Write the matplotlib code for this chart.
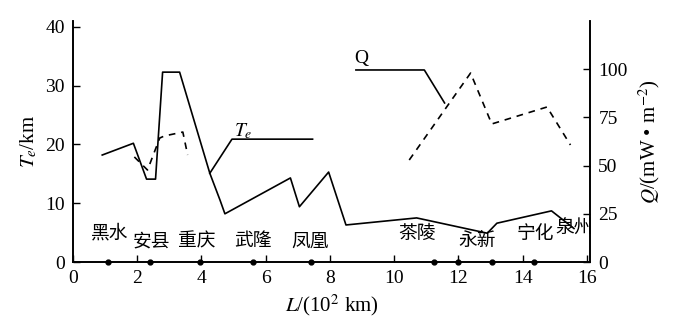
import matplotlib
matplotlib.use("Agg")
import matplotlib.pyplot as plt

plt.rcParams['font.family'] = ['Liberation Serif', 'Noto Sans CJK SC']
plt.rcParams['mathtext.fontset'] = 'stix'

# Te profile (solid)
te_L = [0.91, 1.88, 2.29, 2.57, 2.79, 3.32, 4.26, 4.58, 4.73, 6.77, 7.05, 7.96, 8.5, 10.7, 12.9, 13.2, 14.9, 15.6]
te_val = [18.2, 20.2, 14.1, 14.1, 32.3, 32.3, 15.1, 10.5, 8.2, 14.3, 9.4, 15.3, 6.3, 7.5, 4.9, 6.6, 8.7, 5.7]

# heat flow Q (dashed), two separate pieces
q1_L = [1.91, 2.32, 2.7, 2.85, 3.42, 3.57]
q1_val = [54.5, 47.7, 64.3, 65.4, 67.4, 55.5]
q2_L = [10.47, 12.38, 13.04, 14.76, 15.49]
q2_val = [52.9, 98.0, 71.6, 80.4, 60.7]

# label leader lines
te_lead_L = [4.26, 4.95, 7.46]
te_lead_val = [15.1, 20.9, 20.9]
q_lead_L = [8.81, 10.94, 11.57]
q_lead_val = [99.6, 99.6, 82.5]

# stations
stations = ['黑水', '安县', '重庆', '武隆', '凤凰', '茶陵', '永新', '宁化', '泉州']
station_L = [1.1, 2.4, 3.95, 5.6, 7.4, 11.25, 12.0, 13.05, 14.35]
label_L = [1.15, 2.44, 3.84, 5.6, 7.38, 10.7, 12.6, 14.4, 15.6]
label_y = [4.9, 3.6, 3.6, 3.6, 3.6, 4.9, 3.7, 4.9, 5.8]

fig = plt.figure(figsize=(7, 3.35), dpi=100)
ax = fig.add_axes([0.1043, 0.2179, 0.7386, 0.7194])
ax2 = ax.twinx()

ax.plot(te_L, te_val, color='black', lw=1.2)
ax.plot(te_lead_L, te_lead_val, color='black', lw=1.2)
ax2.plot(q1_L, q1_val, color='black', lw=1.2, ls=(0, (4, 3.5)))
ax2.plot(q2_L, q2_val, color='black', lw=1.2, ls=(0, (4, 3.5)))
ax2.plot(q_lead_L, q_lead_val, color='black', lw=1.2)

ax.plot(station_L, [0] * len(station_L), 'o', color='black', ms=3.5, clip_on=False, zorder=5)
for name, x, y in zip(stations, label_L, label_y):
    ax.text(x, y, name, fontsize=13.5, ha='center', va='center', family='Noto Sans CJK SC')

ax.text(5.0, 22.3, r'$T_e$', fontsize=14, ha='left', va='center')
ax2.text(8.75, 105.8, 'Q', fontsize=14, ha='left', va='center')

ax.set_xlim(0, 16.1)
ax.set_ylim(0, 41)
ax2.set_ylim(0, 125)
ax.set_xticks(range(0, 17, 2))
ax.set_yticks([0, 10, 20, 30, 40])
ax2.set_yticks([0, 25, 50, 75, 100])

for a in (ax, ax2):
    a.spines['top'].set_visible(False)
    for s in a.spines.values():
        s.set_linewidth(1.2)
ax.tick_params(axis='both', direction='in', length=5, width=1, labelsize=14, pad=6)
ax2.tick_params(axis='y', direction='in', length=5, width=1, labelsize=14, pad=6)

ax.set_xlabel(r'$L$/(10$^2$ km)', fontsize=15, labelpad=4)
ax.set_ylabel(r'$T_e$/km', fontsize=15, labelpad=4)
ax2.set_ylabel(r'$Q$/(mW • m$^{-2}$)', fontsize=15, labelpad=6)

fig.savefig('out.png', dpi=100)
